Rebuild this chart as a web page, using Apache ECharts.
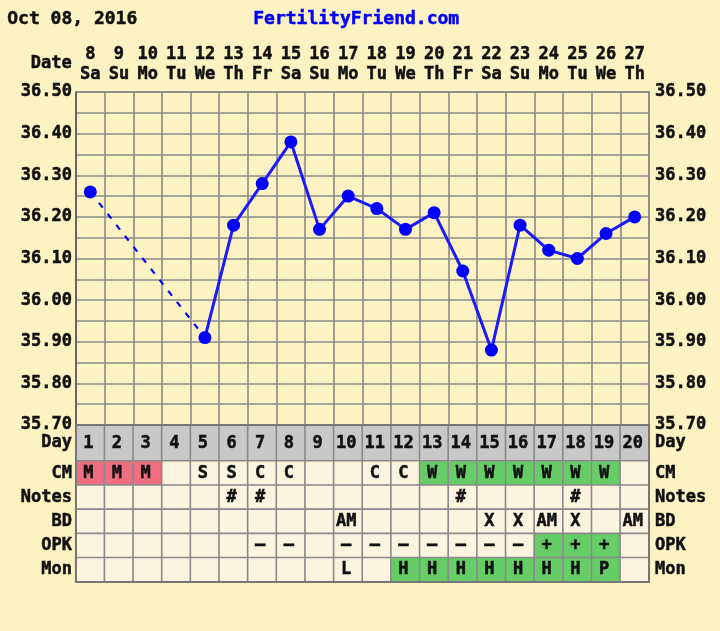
<!DOCTYPE html>
<html><head><meta charset="utf-8">
<script src="https://cdn.jsdelivr.net/npm/echarts@6/dist/echarts.min.js"></script>
<style>html,body{margin:0;padding:0;background:#fdf2c2;}#c{width:720px;height:631px;}</style>
</head><body><div id="c"></div>
<script>
const days = [8,9,10,11,12,13,14,15,16,17,18,19,20,21,22,23,24,25,26,27];
const dows = ['Sa','Su','Mo','Tu','We','Th','Fr','Sa','Su','Mo','Tu','We','Th','Fr','Sa','Su','Mo','Tu','We','Th'];
const temps = [36.26,null,null,null,35.91,36.18,36.28,36.38,36.17,36.25,36.22,36.17,36.21,36.07,35.88,36.18,36.12,36.10,36.16,36.20];
const cycleDays = [1,2,3,4,5,6,7,8,9,10,11,12,13,14,15,16,17,18,19,20];
const rowLabels = ['CM','Notes','BD','OPK','Mon'];
const cm    = ['M','M','M','','S','S','C','C','','','C','C','W','W','W','W','W','W','W',''];
const notes = ['','','','','','#','#','','','','','','','#','','','','#','',''];
const bd    = ['','','','','','','','','','AM','','','','','X','X','AM','X','','AM'];
const opk   = ['','','','','','','–','–','','–','–','–','–','–','–','–','+','+','+',''];
const mon   = ['','','','','','','','','','L','','H','H','H','H','H','H','H','P',''];
const yMin = 35.70, yMax = 36.50, yStep = 0.05;

const rows = [cm, notes, bd, opk, mon];
const PINK = '#ef6e82', GREEN = '#66cc66', CREAM = '#fcf4df', GREY = '#c8c8c8', BG = '#fdf2c2';
const FONT = 'DejaVu Sans Mono';
function cellColor(r, v) {
  if (r === 0 && v === 'M') return PINK;
  if (r === 0 && v === 'W') return GREEN;
  if (r === 3 && v === '+') return GREEN;
  if (r === 4 && (v === 'H' || v === 'P')) return GREEN;
  return CREAM;
}
const tableData = [];
rows.forEach((arr, r) => arr.forEach((v, i) => tableData.push({value:[i, r, 1], txt:v, itemStyle:{color:cellColor(r, v)}})));
const dayData = cycleDays.map((d, i) => ({value:[i, 0, 1], txt:String(d), itemStyle:{color:GREY}}));

// dashed bridges across missing temps
const bridges = [];
for (let i = 0; i < temps.length; i++) {
  if (temps[i] == null) continue;
  let j = i + 1;
  while (j < temps.length && temps[j] == null) j++;
  if (j < temps.length && j > i + 1) {
    const b = temps.map(() => null); b[i] = temps[i]; b[j] = temps[j]; bridges.push(b);
  }
}

const L = 76, W = 573;
const lbl = {fontFamily:FONT, fontWeight:'bold', fontSize:17, color:'#111', textBorderColor:'#111', textBorderWidth:0.5};
const gridLine = {show:true, lineStyle:{color:'#8a8a8a', width:1.6}};
const yFmt = v => (Math.round(v*100) % 10 === 0 ? v.toFixed(2) : '');

const chart = echarts.init(document.getElementById('c'));
chart.setOption({
  backgroundColor: BG,
  animation: false,
  grid: [
    {left:L, width:W, top:92, height:333},
    {left:L, width:W, top:425, height:36},
    {left:L, width:W, top:461, height:121}
  ],
  xAxis: [
    {type:'category', gridIndex:0, position:'top', data:days, boundaryGap:true,
     axisLine:{show:true, lineStyle:{color:'#8a8a8a', width:1.6}}, axisTick:{show:false},
     splitLine:Object.assign({interval:0}, gridLine),
     axisLabel:Object.assign({interval:0, margin:7, lineHeight:20,
       formatter:(v, i) => v + '\n' + dows[i]}, lbl)},
    {type:'category', gridIndex:1, data:cycleDays, show:false},
    {type:'category', gridIndex:2, data:cycleDays, show:false}
  ],
  yAxis: [
    {type:'value', gridIndex:0, min:yMin, max:yMax, interval:yStep, position:'left',
     axisLine:{show:true, lineStyle:{color:'#666', width:2}}, axisTick:{show:false},
     splitLine:gridLine, axisLabel:Object.assign({margin:4, formatter:yFmt}, lbl)},
    {type:'value', gridIndex:0, min:yMin, max:yMax, interval:yStep, position:'right',
     axisLine:{show:true, lineStyle:{color:'#8a8a8a', width:1.6}}, axisTick:{show:false},
     splitLine:{show:false}, axisLabel:Object.assign({margin:6, formatter:yFmt}, lbl)},
    {type:'category', gridIndex:1, data:['Day'], position:'left', axisLine:{show:false}, axisTick:{show:false},
     axisLabel:Object.assign({margin:4}, lbl)},
    {type:'category', gridIndex:1, data:['Day'], position:'right', axisLine:{show:false}, axisTick:{show:false},
     axisLabel:Object.assign({margin:6}, lbl)},
    {type:'category', gridIndex:2, data:rowLabels, inverse:true, position:'left', axisLine:{show:false}, axisTick:{show:false},
     axisLabel:Object.assign({margin:4}, lbl)},
    {type:'category', gridIndex:2, data:rowLabels, inverse:true, position:'right', axisLine:{show:false}, axisTick:{show:false},
     axisLabel:Object.assign({margin:6}, lbl)}
  ],
  series: [
    ...bridges.map(b => ({type:'line', xAxisIndex:0, yAxisIndex:0, data:b, connectNulls:true, symbol:'none',
      lineStyle:{color:'#0000ff', width:2.2, type:[6,8]}, z:2})),
    {type:'line', xAxisIndex:0, yAxisIndex:0, data:temps, connectNulls:false,
     symbol:'circle', symbolSize:13, lineStyle:{color:'#1a1aff', width:3}, itemStyle:{color:'#0000ff'}, z:3},
    {type:'heatmap', xAxisIndex:1, yAxisIndex:2, data:dayData,
     itemStyle:{borderColor:'#8a8a8a', borderWidth:1.6}, emphasis:{disabled:true},
     label:Object.assign({show:true, offset:[-2, 1], formatter:p => p.data.txt}, lbl)},
    {type:'heatmap', xAxisIndex:2, yAxisIndex:4, data:tableData,
     itemStyle:{borderColor:'#8a8a8a', borderWidth:1.6}, emphasis:{disabled:true},
     label:Object.assign({show:true, offset:[-2, 0], formatter:p => p.data.txt}, lbl)}
  ],
  graphic: [
    {type:'text', left:7, top:10, style:{text:'Oct 08, 2016', font:'bold 18px "DejaVu Sans Mono"', fill:'#111', stroke:'#111', lineWidth:0.5}},
    {type:'text', left:253, top:10, style:{text:'FertilityFriend.com', font:'bold 18px "DejaVu Sans Mono"', fill:'#0000ff', stroke:'#0000ff', lineWidth:0.5}},
    {type:'text', right:648, top:55, style:{text:'Date', font:'bold 17px "DejaVu Sans Mono"', fill:'#111', stroke:'#111', lineWidth:0.5}},
    {type:'rect', shape:{x:L, y:425, width:W, height:157}, style:{fill:'none', stroke:'#777', lineWidth:2}, z:10}
  ]
});
</script></body></html>
